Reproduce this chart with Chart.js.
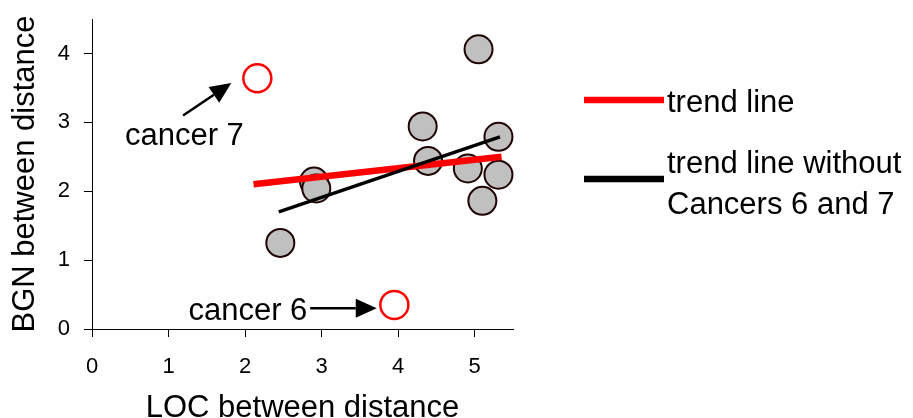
<!DOCTYPE html>
<html>
<head>
<meta charset="utf-8">
<script src="https://cdn.jsdelivr.net/npm/chart.js@4.4.1/dist/chart.umd.min.js"></script>
<style>
  html, body { margin: 0; padding: 0; background: #fff; }
  #wrap { width: 913px; height: 418px; }
</style>
</head>
<body>
<div id="wrap"><canvas id="chart" width="913" height="418"></canvas></div>
<script>
// cancers used for both trend lines
const cancerX = [5.05, 4.32, 5.31, 4.39, 4.91, 5.31, 5.10, 2.90, 2.93, 2.46];
const cancerY = [4.06, 2.94, 2.79, 2.44, 2.33, 2.24, 1.86, 2.14, 2.04, 1.25];

// cancer 6 and cancer 7 (open red circles)
const outlierNames = ['cancer 6', 'cancer 7'];
const outlierX = [3.95, 2.16];
const outlierY = [0.35, 3.64];

// trend line end points
const trendX = [2.11, 5.35];
const trendY = [2.10, 2.50];
const trendNo67X = [2.44, 5.33];
const trendNo67Y = [1.70, 2.79];

const xTicks = [0, 1, 2, 3, 4, 5];
const yTicks = [0, 1, 2, 3, 4];

const legendLabels = [['trend line'], ['trend line without', 'Cancers 6 and 7']];

const FONT = "'Liberation Sans', Arial, Helvetica, sans-serif";

const toPoints = (xs, ys) => xs.map((x, i) => ({ x: x, y: ys[i] }));

function arrow(ctx, x1, y1, x2, y2) {
  const ang = Math.atan2(y2 - y1, x2 - x1);
  const headLen = 21, headHalf = 9.5;
  const bx = x2 - headLen * Math.cos(ang);
  const by = y2 - headLen * Math.sin(ang);
  ctx.beginPath();
  ctx.moveTo(x1, y1);
  ctx.lineTo(bx, by);
  ctx.lineWidth = 2.5;
  ctx.strokeStyle = '#000';
  ctx.stroke();
  ctx.beginPath();
  ctx.moveTo(x2, y2);
  ctx.lineTo(bx + headHalf * Math.sin(ang), by - headHalf * Math.cos(ang));
  ctx.lineTo(bx - headHalf * Math.sin(ang), by + headHalf * Math.cos(ang));
  ctx.closePath();
  ctx.fillStyle = '#000';
  ctx.fill();
}

// labels for the two outliers + the legend on the right
const extras = {
  id: 'extras',
  afterDraw(chart) {
    const ctx = chart.ctx;
    const xs = chart.scales.x, ys = chart.scales.y;
    const px = v => xs.getPixelForValue(v);
    const py = v => ys.getPixelForValue(v);
    ctx.save();
    ctx.font = '31px ' + FONT;
    ctx.fillStyle = '#000';
    ctx.textAlign = 'left';
    ctx.textBaseline = 'alphabetic';

    // cancer 6
    ctx.fillText(outlierNames[0], px(1.26), py(0.135));
    arrow(ctx, px(2.85), py(0.30), px(3.72), py(0.30));

    // cancer 7
    ctx.fillText(outlierNames[1], px(0.43), py(2.67));
    arrow(ctx, px(1.19), py(3.10), px(1.82), py(3.57));

    // legend
    const lx = chart.chartArea.right + 71;
    const rows = [
      { color: '#ff0000', lineY: 100, textY: [112] },
      { color: '#000000', lineY: 179, textY: [173, 214] }
    ];
    rows.forEach((r, i) => {
      ctx.beginPath();
      ctx.moveTo(lx, r.lineY);
      ctx.lineTo(lx + 80, r.lineY);
      ctx.lineWidth = 6.5;
      ctx.strokeStyle = r.color;
      ctx.stroke();
      ctx.fillStyle = '#000';
      legendLabels[i].forEach((t, j) => ctx.fillText(t, lx + 83, r.textY[j]));
    });
    ctx.restore();
  }
};

const ctx = document.getElementById('chart');

new Chart(ctx, {
  type: 'scatter',
  data: {
    datasets: [
      {
        label: 'trend line without Cancers 6 and 7',
        data: toPoints(trendNo67X, trendNo67Y),
        showLine: true,
        borderColor: '#000',
        borderWidth: 3.5,
        pointRadius: 0,
        order: 0
      },
      {
        label: 'trend line',
        data: toPoints(trendX, trendY),
        showLine: true,
        borderColor: '#ff0000',
        borderWidth: 6.5,
        pointRadius: 0,
        order: 1
      },
      {
        label: 'cancers',
        data: toPoints(cancerX, cancerY),
        backgroundColor: '#c0c0c0',
        borderColor: '#200404',
        borderWidth: 2,
        pointRadius: 14,
        pointHoverRadius: 14,
        order: 2
      },
      {
        label: 'cancers 6 and 7',
        data: toPoints(outlierX, outlierY),
        backgroundColor: '#ffffff',
        borderColor: '#ff0000',
        borderWidth: 2.5,
        pointRadius: 14,
        pointHoverRadius: 14,
        order: 3
      }
    ]
  },
  options: {
    responsive: false,
    animation: false,
    devicePixelRatio: 1,
    clip: false,
    layout: { padding: { left: 0, top: 19, right: 400, bottom: 0 } },
    plugins: {
      legend: { display: false },
      tooltip: { enabled: false }
    },
    scales: {
      x: {
        type: 'linear',
        min: 0,
        max: 5.5,
        afterBuildTicks: s => { s.ticks = xTicks.map(v => ({ value: v })); },
        afterFit: s => { s.height = 89; s.paddingLeft = 0; s.paddingRight = 0; },
        border: { display: true, color: '#000', width: 1 },
        grid: { display: true, drawOnChartArea: false, drawTicks: true, tickLength: 8, color: '#000', tickColor: '#000' },
        ticks: { color: '#000', padding: 19, font: { family: FONT, size: 22, lineHeight: 1 } },
        title: {
          display: true,
          text: 'LOC between distance',
          color: '#000',
          font: { family: FONT, size: 31, lineHeight: 1 },
          padding: { top: 0, bottom: -6 }
        }
      },
      y: {
        type: 'linear',
        min: 0,
        max: 4.5,
        afterBuildTicks: s => { s.ticks = yTicks.map(v => ({ value: v })); },
        afterFit: s => { s.width = 92; s.paddingTop = 0; s.paddingBottom = 0; },
        border: { display: true, color: '#000', width: 1 },
        grid: { display: true, drawOnChartArea: false, drawTicks: true, tickLength: 8, color: '#000', tickColor: '#000' },
        ticks: { color: '#000', padding: 14, font: { family: FONT, size: 22, lineHeight: 1 } },
        title: {
          display: true,
          text: 'BGN between distance',
          color: '#000',
          font: { family: FONT, size: 31, lineHeight: 1 },
          padding: { top: 10, bottom: 0 }
        }
      }
    }
  },
  plugins: [extras]
});
</script>
</body>
</html>
